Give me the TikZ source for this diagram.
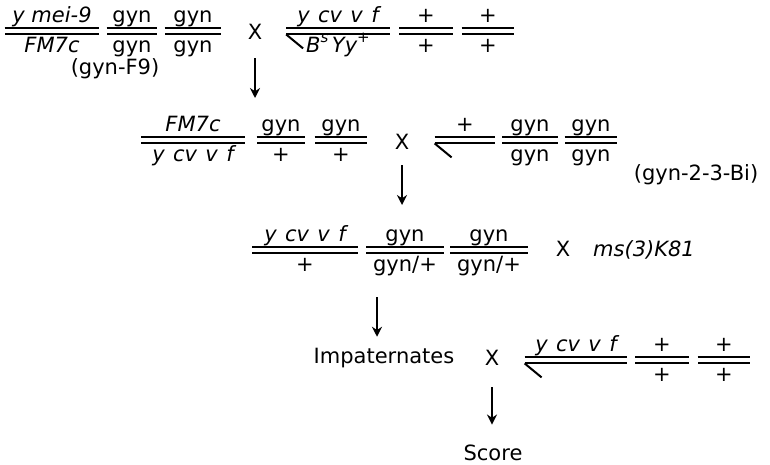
\documentclass[tikz,border=0pt]{standalone}
\usepackage{fontspec}
\setmainfont{DejaVu Sans}
\usetikzlibrary{arrows.meta, positioning}
\newcommand{\crossfont}{\fontsize{10.5}{12}\selectfont}
\newcommand{\supfix}[1]{\raisebox{0.9ex}{\fontsize{7.5}{8}\selectfont #1}}

\begin{document}
\begin{tikzpicture}[x=0.5pt, y=-0.5pt, font=\crossfont,
  chrom/.style={double, line width=1pt, double distance=2pt},
  bar/.style={minimum width=#1*0.5pt, minimum height=3pt, inner sep=0pt, label distance=0pt,
    append after command={(\tikzlastnode.west) edge[chrom] (\tikzlastnode.east)}},
  xbar/.style={bar=#1,
    append after command={(\tikzlastnode.south west) edge[line width=1pt] ([shift={(17,14)}]\tikzlastnode.south west)}},
  lab/.style={inner sep=0pt, text height=8pt, text depth=2.5pt},
  up/.style={lab, yshift=-0.3pt},
  dn/.style={lab, yshift=-1pt},
  gene/.style={font=\crossfont\itshape},
  word/.style={inner sep=1pt, text height=7.65pt, text depth=0pt},
  flow/.style={-{Stealth[length=5pt, width=5pt]}, line width=1pt}
]
\useasboundingbox (0,0) rectangle (770,465);

% first cross
\node[bar=94, label={[up, gene]above:y mei-9}, label={[dn, gene]below:FM7c}] (r1a) at (52,31) {};
\node[bar=50, label={[up]above:gyn}, label={[dn]below:gyn}] (r1b) at (132,31) {};
\node[bar=56, label={[up]above:gyn}, label={[dn]below:gyn}] (r1c) at (193,31) {};
\node[word] (x1) at (255,32) {X};
\node[xbar=103, label={[up, gene]above:{y\hspace{0.4em}cv\hspace{0.4em}v\hspace{0.4em}f}},
  label={[dn, gene]below:{B\supfix{s}\,Yy\supfix{+}}}] (r1d) at (338,31) {};
\node[bar=53, label={[up]above:+}, label={[dn]below:+}] (r1e) at (426,31) {};
\node[bar=52, label={[up]above:+}, label={[dn]below:+}] (r1f) at (488,31) {};
\node[word] (f9) at (115,67) {(gyn-F9)};

% second cross
\node[bar=103, label={[up, gene]above:FM7c},
  label={[dn, gene]below:{y\hspace{0.4em}cv\hspace{0.4em}v\hspace{0.4em}f}}] (r2a) at (193,140) {};
\node[bar=48, label={[up]above:gyn}, label={[dn]below:+}] (r2b) at (281,140) {};
\node[bar=52, label={[up]above:gyn}, label={[dn]below:+}] (r2c) at (341,140) {};
\node[word] (x2) at (402,142) {X};
\node[xbar=60, label={[up]above:+}] (r2d) at (465,140) {};
\node[bar=55, label={[up]above:gyn}, label={[dn]below:gyn}] (r2e) at (530,140) {};
\node[bar=52, label={[up]above:gyn}, label={[dn]below:gyn}] (r2f) at (591,140) {};
\node[word] (bi) at (696,173) {(gyn-2-3-Bi)};

% third cross
\node[bar=105, label={[up, gene]above:{y\hspace{0.4em}cv\hspace{0.4em}v\hspace{0.4em}f}},
  label={[dn]below:+}] (r3a) at (305,250) {};
\node[bar=77, label={[up]above:gyn}, label={[dn]below:gyn/+}] (r3b) at (405,250) {};
\node[bar=77, label={[up]above:gyn}, label={[dn]below:gyn/+}] (r3c) at (489,250) {};
\node[word] (x3) at (563,249) {X};
\node[word, gene] (k81) at (644,249) {ms(3)K81};

% test cross
\node[word] (imp) at (384,356) {Impaternates};
\node[word] (x4) at (492,358) {X};
\node[xbar=102, label={[up, gene]above:{y\hspace{0.4em}cv\hspace{0.4em}v\hspace{0.4em}f}}] (r4a) at (576,360) {};
\node[bar=53, label={[up]above:+}, label={[dn]below:+}] (r4b) at (662,360) {};
\node[bar=52, label={[up]above:+}, label={[dn]below:+}] (r4c) at (724,360) {};
\node[word] (score) at (493,453) {Score};

\coordinate (d1) at (255,98);
\coordinate (d2) at (402,205);
\coordinate (u3) at (377,297);
\draw[flow, shorten <=8.1pt] (x1.south) -- (d1);
\draw[flow, shorten <=6.6pt] (x2.south) -- (d2);
\draw[flow, shorten >=4.6pt] (u3) -- (u3 |- imp.north);
\draw[flow, shorten <=9.6pt, shorten >=9.2pt] (x4.south) -- (x4.south |- score.north);
\end{tikzpicture}
\end{document}
